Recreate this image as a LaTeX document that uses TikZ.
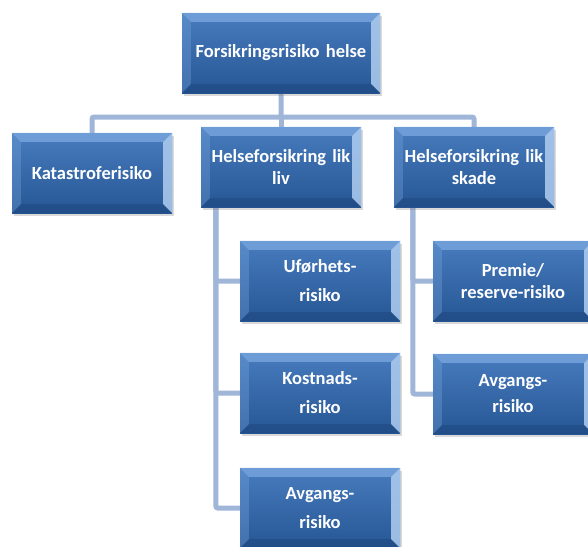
\documentclass[tikz,border=0pt]{standalone}
\usepackage{fontspec}
\setmainfont{Carlito}
\usetikzlibrary{positioning,calc,shadows,backgrounds}
\definecolor{boxtop}{RGB}{72,124,190}
\definecolor{boxbot}{RGB}{38,86,148}
\definecolor{bevlight}{RGB}{120,165,222}
\definecolor{bevedge}{RGB}{175,205,240}
\definecolor{bevdark}{RGB}{30,70,125}
\definecolor{linkblue}{RGB}{160,182,216}
\tikzset{
  riskbox/.style={
    rectangle,
    minimum width=160pt,
    minimum height=80pt,
    top color=boxtop,
    bottom color=boxbot,
    text=white,
    align=center,
    inner sep=0pt,
    text width=150pt,
    font=\bfseries\fontsize{18.5}{22}\selectfont,
    drop shadow={shadow xshift=1.5pt, shadow yshift=-2.5pt, opacity=0.3}
  },
  splitbox/.style={riskbox, font=\bfseries\fontsize{18.5}{29}\selectfont},
  link/.style={draw=linkblue, line width=5pt, rounded corners=2pt}
}
% bevel faces on a box
\newcommand{\bevel}[1]{
  \fill[bevlight, opacity=0.8] (#1.north west) -- (#1.north east) -- ($(#1.north east)+(-9,9)$) -- ($(#1.north west)+(9,9)$) -- cycle;
  \fill[bevlight, opacity=0.35] (#1.north west) -- ($(#1.north west)+(9,9)$) -- ($(#1.south west)+(9,-9)$) -- (#1.south west) -- cycle;
  \fill[bevedge, opacity=0.85] (#1.north east) -- (#1.south east) -- ($(#1.south east)+(-9,-9)$) -- ($(#1.north east)+(-9,9)$) -- cycle;
  \fill[bevdark, opacity=0.5] (#1.south west) -- ($(#1.south west)+(9,-9)$) -- ($(#1.south east)+(-9,-9)$) -- (#1.south east) -- cycle;
}

\begin{document}
\begin{tikzpicture}[x=1pt, y=-1pt]
  \useasboundingbox (0,0) rectangle (588,546);
  \clip (0,0) rectangle (588,546);
  \coordinate (bus) at (281,117);

  \node[riskbox, minimum width=198pt, text width=190pt] (top) at (281,53) {Forsikringsrisiko helse};
  \node[riskbox] (kat) at (92,173) {Katastroferisiko};
  \node[riskbox] (liv) at (281,167) {Helseforsikring lik\\liv};
  \node[riskbox] (skade) at (474,167) {Helseforsikring lik\\skade};
  \node[splitbox] (ufor) at (320,281) {Uførhets-\\risiko};
  \node[splitbox] (kost) at (320,393) {Kostnads-\\risiko};
  \node[splitbox] (avliv) at (320,508) {Avgangs-\\risiko};
  \node[riskbox] (prem) at (513,281) {Premie/\\reserve-risiko};
  \node[riskbox, font=\bfseries\fontsize{18.5}{26}\selectfont] (avskade) at (513,394) {Avgangs-\\risiko};

  \foreach \b in {top,kat,liv,skade,ufor,kost,avliv,prem,avskade}{\bevel{\b}}

  % connectors under the boxes
  \begin{scope}[on background layer]
    \coordinate (livdown) at ($(liv.south west)+(15,0)$);
    \coordinate (skadedown) at ($(skade.south west)+(19,0)$);
    \draw[link] (top.south) -- (bus) -| (kat.north);
    \draw[link] (bus) -- (liv.north);
    \draw[link] (bus) -| (skade.north);
    \draw[link] (livdown) |- (ufor.west);
    \draw[link] (livdown) |- (kost.west);
    \draw[link] (livdown) |- (avliv.west);
    \draw[link] (skadedown) |- (prem.west);
    \draw[link] (skadedown) |- (avskade.west);
  \end{scope}
\end{tikzpicture}
\end{document}
